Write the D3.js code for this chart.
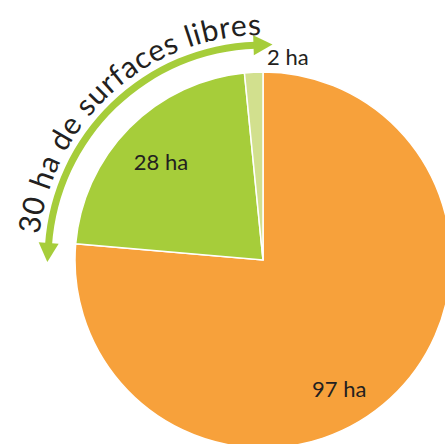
<!DOCTYPE html>
<html>
<head>
<meta charset="utf-8">
<style>
	body { margin: 0; background: #fff; }
	.lbl { font-family: Lato, "Noto Sans", sans-serif; fill: #231f20; }
</style>
<script src="https://cdn.jsdelivr.net/npm/d3@7"></script>
</head>
<body>
<script>
// data
var categories = ["bâti", "surfaces libres", "autres surfaces libres"];
var values = [97, 28, 2];
var labels = ["97 ha", "28 ha", "2 ha"];
var colors = ["#f7a13b", "#a6cd3a", "#d2e08e"];
var arcTitle = "30 ha de surfaces libres";

var width = 445, height = 444;
var cx = 263, cy = 260, R = 188;

var svg = d3.select("body").append("svg")
	.attr("width", width)
	.attr("height", height);

var g = svg.append("g").attr("transform", "translate(" + cx + "," + cy + ")");

var pie = d3.pie().sort(null).value(function(d) { return d; });
var arc = d3.arc().innerRadius(0).outerRadius(R);
var slices = pie(values);

g.selectAll("path.slice")
	.data(slices)
	.enter().append("path")
	.attr("class", "slice")
	.attr("d", arc)
	.attr("fill", function(d, i) { return colors[i]; })
	.attr("stroke", "#fff")
	.attr("stroke-width", 1.5);

// label placement (angle offset in degrees, radius)
var labelPlace = [{da: 12, r: 150}, {da: -1, r: 141}, {da: 7, r: 204}];
var rad = Math.PI / 180;
function labelAngle(d, i) {
	if (i === 2) return labelPlace[i].da * rad;
	return (d.startAngle + d.endAngle) / 2 + labelPlace[i].da * rad;
}
g.selectAll("text.val")
	.data(slices)
	.enter().append("text")
	.attr("class", "lbl val")
	.attr("font-size", 22)
	.attr("text-anchor", "middle")
	.attr("dy", "0.35em")
	.attr("x", function(d, i) { return labelPlace[i].r * Math.sin(labelAngle(d, i)); })
	.attr("y", function(d, i) { return -labelPlace[i].r * Math.cos(labelAngle(d, i)); })
	.text(function(d, i) { return labels[i]; });

// curved double arrow
var arrowR = 215, a0 = -86 * rad, a1 = -2 * rad;
var green = colors[1];
g.append("path")
	.attr("d", d3.arc().innerRadius(arrowR - 3.5).outerRadius(arrowR + 3.5)
		.startAngle(a0).endAngle(a1)())
	.attr("fill", green);

function head(a, dir) {
	var x = arrowR * Math.sin(a), y = -arrowR * Math.cos(a);
	var deg = a / rad;
	var rot = dir > 0 ? deg : deg + 180;
	g.append("path")
		.attr("d", "M-2,-10 L17,0 L-2,10 Z")
		.attr("fill", green)
		.attr("transform", "translate(" + x + "," + y + ") rotate(" + rot + ")");
}
head(a1, 1);
head(a0, -1);

// title on curved path
var tr = 225, t0 = -83.5 * rad, t1 = -0.5 * rad;
var defs = svg.append("defs");
defs.append("path")
	.attr("id", "titlePath")
	.attr("d", "M" + (cx + tr * Math.sin(t0)) + "," + (cy - tr * Math.cos(t0)) +
		" A" + tr + "," + tr + " 0 0 1 " + (cx + tr * Math.sin(t1)) + "," + (cy - tr * Math.cos(t1)));

svg.append("text")
	.attr("class", "lbl")
	.attr("font-size", 30)
	.append("textPath")
	.attr("href", "#titlePath")
	.attr("textLength", tr * (t1 - t0))
	.attr("lengthAdjust", "spacing")
	.text(arcTitle);
</script>
</body>
</html>
